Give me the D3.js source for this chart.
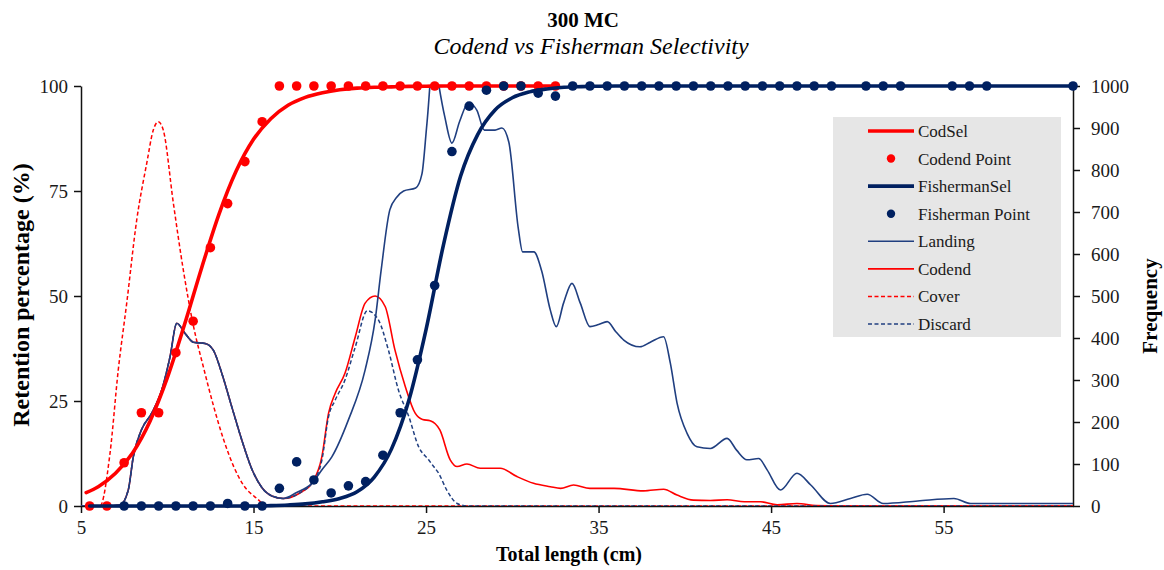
<!DOCTYPE html>
<html>
<head>
<meta charset="utf-8">
<script src="https://cdn.jsdelivr.net/npm/d3@7"></script>
<style>
  html, body { margin: 0; padding: 0; background: #fff; }
  svg { display: block; font-family: "Liberation Serif", "Times New Roman", serif; }
</style>
</head>
<body>
<svg id="chart" width="1164" height="570"></svg>
<script>
// ---- Retention data (%) ----
const codendPointLen = [5.5, 6.5, 7.5, 8.5, 9.5, 10.5, 11.5, 12.5, 13.5, 14.5, 15.5, 16.5, 17.5, 18.5, 19.5,
  20.5, 21.5, 22.5, 23.5, 24.5, 25.5, 26.5, 27.5, 28.5, 29.5, 30.5, 31.5, 32.5];
const codendPointVal = [0, 0, 10.3, 22.2, 22.2, 36.5, 44, 61.5, 72, 82, 91.5, 100, 100, 100, 100,
  100, 100, 100, 100, 100, 100, 100, 100, 100, 100, 100, 100, 100];

const fishermanPointLen = [7.5, 8.5, 9.5, 10.5, 11.5, 12.5, 13.5, 14.5, 15.5, 16.5, 17.5, 18.5, 19.5, 20.5,
  21.5, 22.5, 23.5, 24.5, 25.5, 26.5, 27.5, 28.5, 29.5, 30.5, 31.5, 32.5, 33.5, 34.5, 35.5, 36.5, 37.5,
  38.5, 39.5, 40.5, 41.5, 42.5, 43.5, 44.5, 45.5, 46.5, 47.5, 48.5, 50.5, 51.5, 52.5, 55.5, 56.5, 57.5, 62.5];
const fishermanPointVal = [0, 0, 0, 0, 0, 0, 0.6, 0, 0, 4.2, 10.5, 6.2, 3.1, 4.8,
  5.8, 12.1, 22.2, 34.8, 52.5, 84.4, 95.2, 99.0, 100, 100, 98.3, 97.6, 100, 100, 100, 100, 100,
  100, 100, 100, 100, 100, 100, 100, 100, 100, 100, 100, 100, 100, 100, 100, 100, 100, 100];

// fitted selectivity curves
const codSelLen = [5.3, 6, 7, 8, 9, 10, 11, 12, 13, 14, 15, 16, 17, 18, 19, 20, 21, 22, 23, 24, 25, 26, 28, 30, 32.5];
const codSelVal = [3.2, 4.6, 7.8, 12.7, 20.2, 30.5, 43.2, 56.8, 69.5, 79.8, 87.3, 92.2, 95.4, 97.3, 98.4,
  99.1, 99.5, 99.7, 99.8, 99.9, 99.95, 100, 100, 100, 100];

const fishSelLen = [5.5, 10, 15, 16, 17, 18, 19, 20, 21, 22, 23, 24, 25, 26, 27, 28, 29, 30,
  31, 32, 33, 34, 35, 36, 62.5];
const fishSelVal = [0, 0, 0, 0.1, 0.25, 0.5, 1.0, 1.8, 3.4, 6.9, 13.6, 25.1, 42, 62, 78.5, 88.5, 94.3, 97.2,
  98.6, 99.3, 99.7, 99.85, 99.95, 100, 100];

// ---- Length frequencies (right axis), [length, count] ----
const smallFishHump = [[5, 0], [6.5, 0], [7.26, 2], [7.74, 38], [8.03, 117], [8.5, 181], [9.1, 221],
  [9.68, 276], [10.16, 355], [10.55, 435], [11.03, 411], [11.51, 390], [12.19, 387], [12.67, 371],
  [13.16, 316], [13.74, 236], [14.32, 157], [14.9, 88], [15.48, 44], [16.06, 24], [16.73, 18]];

const landing = smallFishHump.concat([[17.5, 32], [18.38, 54], [19.0, 88], [19.54, 117], [20.5, 205],
  [21.47, 324], [22.05, 443], [22.4, 562], [22.9, 705], [23.3, 735], [23.7, 750], [24.4, 757], [24.76, 790],
  [25.05, 910], [25.45, 1080], [25.75, 1000], [26.1, 924], [26.5, 864], [26.95, 916], [27.46, 960],
  [27.95, 942], [28.38, 895], [29.0, 895], [29.4, 900], [29.8, 866], [30.35, 660], [30.6, 605],
  [31.25, 605], [31.7, 560], [32.2, 467], [32.55, 427], [32.97, 483], [33.46, 530], [33.94, 483],
  [34.5, 427], [35.0, 432], [35.5, 439], [36.0, 415], [36.46, 395], [37.4, 379], [38.0, 390],
  [38.77, 403], [39.16, 340], [39.55, 245], [40.13, 173], [40.7, 141], [41.48, 137], [42.45, 161],
  [43.0, 133], [43.6, 110], [44.28, 113], [44.77, 86], [45.54, 38], [46.5, 78], [47.3, 50],
  [48.44, 6], [49.6, 18], [50.57, 28], [51.5, 6], [53.5, 12], [55.6, 18], [56.57, 6], [62.5, 6]]);

const codend = smallFishHump.concat([[17.8, 34], [18.38, 54], [18.96, 117], [19.35, 221], [19.73, 268],
  [20.3, 316], [20.9, 403], [21.47, 483], [22.05, 500], [22.63, 475], [23.2, 371], [23.8, 284],
  [24.37, 221], [24.8, 206], [25.24, 203], [25.8, 181], [26.4, 110], [26.8, 94], [27.37, 100],
  [28.14, 90], [29.3, 90], [30.27, 70], [31.23, 54], [32.2, 46], [32.8, 42], [33.55, 50], [34.5, 42],
  [35.9, 42], [37.6, 36], [38.77, 40], [39.55, 26], [40.5, 14], [41.48, 13], [42.45, 15], [43.45, 10],
  [44.4, 10], [45.35, 3], [46.5, 6], [47.6, 1], [49, 0], [62.5, 0]]);

const cover = [[5, 0], [6.1, 0], [6.68, 125], [7.16, 324], [7.65, 483], [8.23, 681], [8.81, 816],
  [9.19, 895], [9.48, 915], [9.77, 895], [10.35, 722], [10.93, 562], [11.51, 430], [12.1, 330],
  [12.67, 240], [13.25, 160], [13.84, 95], [14.41, 50], [15.19, 18], [15.8, 0], [62.5, 0]];

const discard = smallFishHump.concat([[17.8, 34], [18.38, 54], [18.96, 109], [19.35, 213], [19.73, 252],
  [20.3, 300], [20.9, 379], [21.6, 465], [22.24, 443], [22.82, 371], [23.4, 276], [24.0, 213],
  [24.57, 141], [25.15, 110], [25.44, 94], [25.73, 78], [26.2, 38], [26.8, 6], [27.4, 0], [62.5, 0]]);

const xTicks = [5, 15, 25, 35, 45, 55];
const yLeftTicks = [0, 25, 50, 75, 100];
const yRightTicks = [0, 100, 200, 300, 400, 500, 600, 700, 800, 900, 1000];

// ---- Chart ----
const RED = "#ff0000", NAVY = "#002060", BLUE = "#203f80";
const svg = d3.select("#chart");
const plot = { left: 81, right: 1073, top: 86, bottom: 506 };

const x = d3.scaleLinear().domain([5, 62.5]).range([plot.left, plot.right]);
const yL = d3.scaleLinear().domain([0, 100]).range([plot.bottom, plot.top]);
const yR = d3.scaleLinear().domain([0, 1000]).range([plot.bottom, plot.top]);

// titles
svg.append("text").attr("x", 583).attr("y", 27).attr("text-anchor", "middle")
  .attr("font-size", 21).attr("font-weight", "bold").text("300 MC");
svg.append("text").attr("x", 591).attr("y", 54).attr("text-anchor", "middle")
  .attr("font-size", 24).attr("font-style", "italic").text("Codend vs Fisherman Selectivity");

// axes
function styleAxis(g) {
  g.selectAll("path.domain").attr("stroke", "#111").attr("stroke-width", 1.5);
  g.selectAll(".tick line").attr("stroke", "#111").attr("stroke-width", 1.5);
  g.selectAll(".tick text").attr("font-size", 19).attr("fill", "#1a1a1a")
    .attr("font-family", "Liberation Serif, Times New Roman, serif");
}
svg.append("g").attr("transform", `translate(0,${plot.bottom})`)
  .call(d3.axisBottom(x).tickValues(xTicks).tickSize(7).tickSizeOuter(0).tickPadding(8))
  .call(styleAxis);
svg.append("g").attr("transform", `translate(${plot.left},0)`)
  .call(d3.axisLeft(yL).tickValues(yLeftTicks).tickSize(7).tickSizeOuter(0).tickPadding(6))
  .call(styleAxis);
svg.append("g").attr("transform", `translate(${plot.right},0)`)
  .call(d3.axisRight(yR).tickValues(yRightTicks).tickFormat(d3.format("d"))
    .tickSize(7).tickSizeOuter(0).tickPadding(11))
  .call(styleAxis);

// axis titles
svg.append("text").attr("x", 569).attr("y", 561).attr("text-anchor", "middle")
  .attr("font-size", 20).attr("font-weight", "bold").text("Total length (cm)");
svg.append("text").attr("transform", "translate(29,295) rotate(-90)").attr("text-anchor", "middle")
  .attr("font-size", 24).attr("font-weight", "bold").text("Retention percentage (%)");
svg.append("text").attr("transform", "translate(1157,306) rotate(-90)").attr("text-anchor", "middle")
  .attr("font-size", 21).attr("font-weight", "bold").text("Frequency");

// frequency lines, clipped to the plot area
svg.append("clipPath").attr("id", "plotClip").append("rect")
  .attr("x", plot.left).attr("y", plot.top).attr("width", plot.right - plot.left)
  .attr("height", plot.bottom - plot.top);
const freqLayer = svg.append("g").attr("clip-path", "url(#plotClip)");
const freqLine = d3.line().x(d => x(d[0])).y(d => yR(d[1])).curve(d3.curveMonotoneX);

freqLayer.append("path").datum(codend).attr("d", freqLine)
  .attr("fill", "none").attr("stroke", RED).attr("stroke-width", 1.6);
freqLayer.append("path").datum(cover).attr("d", freqLine)
  .attr("fill", "none").attr("stroke", RED).attr("stroke-width", 1.5).attr("stroke-dasharray", "4,2.5");
freqLayer.append("path").datum(landing).attr("d", freqLine)
  .attr("fill", "none").attr("stroke", BLUE).attr("stroke-width", 1.6);
freqLayer.append("path").datum(discard).attr("d", freqLine)
  .attr("fill", "none").attr("stroke", BLUE).attr("stroke-width", 1.5).attr("stroke-dasharray", "4,2.5");

// selectivity curves and observed points
const selLine = d3.line().x(d => x(d[0])).y(d => yL(d[1])).curve(d3.curveMonotoneX);
svg.append("path").datum(d3.zip(codSelLen, codSelVal)).attr("d", selLine)
  .attr("fill", "none").attr("stroke", RED).attr("stroke-width", 3.6).attr("stroke-linecap", "round");
svg.append("g").selectAll("circle").data(d3.zip(codendPointLen, codendPointVal)).join("circle")
  .attr("cx", d => x(d[0])).attr("cy", d => yL(d[1])).attr("r", 4.8).attr("fill", RED);
svg.append("path").datum(d3.zip(fishSelLen, fishSelVal)).attr("d", selLine)
  .attr("fill", "none").attr("stroke", NAVY).attr("stroke-width", 3.6).attr("stroke-linecap", "round");
svg.append("g").selectAll("circle").data(d3.zip(fishermanPointLen, fishermanPointVal)).join("circle")
  .attr("cx", d => x(d[0])).attr("cy", d => yL(d[1])).attr("r", 4.8).attr("fill", NAVY);

// legend
const legendItems = [
  { name: "CodSel", type: "line", color: RED, width: 3.6 },
  { name: "Codend Point", type: "dot", color: RED },
  { name: "FishermanSel", type: "line", color: NAVY, width: 3.6 },
  { name: "Fisherman Point", type: "dot", color: NAVY },
  { name: "Landing", type: "line", color: BLUE, width: 1.6 },
  { name: "Codend", type: "line", color: RED, width: 1.6 },
  { name: "Cover", type: "line", color: RED, width: 1.5, dash: "4,2.5" },
  { name: "Discard", type: "line", color: BLUE, width: 1.5, dash: "4,2.5" }
];
const legend = svg.append("g");
legend.append("rect").attr("x", 833).attr("y", 117).attr("width", 228).attr("height", 220).attr("fill", "#e6e6e6");
const rowY = d3.scalePoint().domain(legendItems.map(d => d.name)).range([131, 324]);
legendItems.forEach(item => {
  const yy = rowY(item.name);
  if (item.type === "line") {
    legend.append("line").attr("x1", 868).attr("x2", 914).attr("y1", yy).attr("y2", yy)
      .attr("stroke", item.color).attr("stroke-width", item.width)
      .attr("stroke-dasharray", item.dash || null);
  } else {
    legend.append("circle").attr("cx", 891).attr("cy", yy).attr("r", 4.2).attr("fill", item.color);
  }
  legend.append("text").attr("x", 918).attr("y", yy).attr("dy", "0.35em")
    .attr("font-size", 17).attr("fill", "#1a1a1a").text(item.name);
});
</script>
</body>
</html>
